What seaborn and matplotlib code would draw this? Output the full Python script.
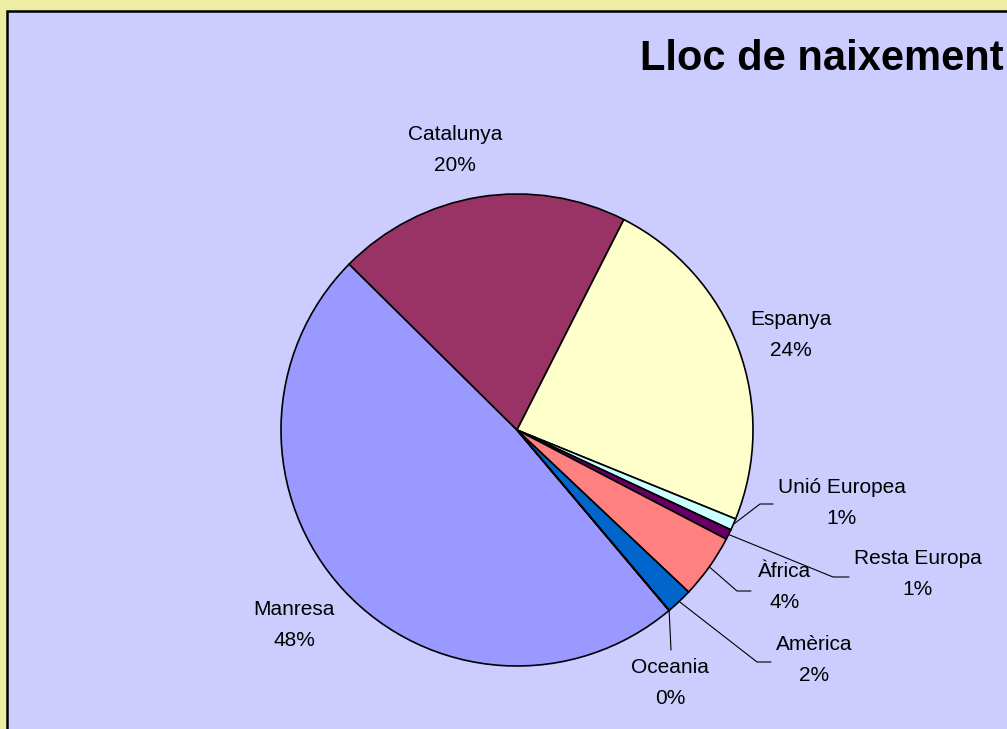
import numpy as np
import matplotlib.pyplot as plt
import matplotlib.patches as mpatches
import seaborn as sns

# data (share of people by birthplace, %)
categories = ["Manresa", "Catalunya", "Espanya", "Unió Europea", "Resta Europa", "Àfrica", "Amèrica", "Oceania"]
values = [48.6, 20.1, 23.7, 0.8, 0.7, 4.4, 1.8, 0.02]
pct_labels = ["48%", "20%", "24%", "1%", "1%", "4%", "2%", "0%"]
colors = ["#9999FF", "#993366", "#FFFFCC", "#CCFFFF", "#660066", "#FF8080", "#0066CC", "#CCCCFF"]

# layout (pixel space, y from top)
center_px = (517, 430)
radius_px = 236
label_pos = {
    "Manresa": (294, 625), "Catalunya": (455, 150), "Espanya": (791, 335),
    "Unió Europea": (842, 503), "Resta Europa": (918, 574), "Àfrica": (785, 587),
    "Amèrica": (814, 660), "Oceania": (670, 683),
}
leaders = {
    "Unió Europea": [(760, 504), (773, 504)],
    "Resta Europa": [(833, 577), (849, 577)],
    "Àfrica": [(737, 591), (751, 591)],
    "Amèrica": [(757, 662), (771, 662)],
    "Oceania": [(671, 650)],
}

sns.set_style("white")
plt.rcParams["font.family"] = ["Liberation Sans", "DejaVu Sans"]

W, H = 1007, 729
fig = plt.figure(figsize=(W / 100, H / 100), dpi=100)
fig.patch.set_facecolor("#EEEEA2")

panel = mpatches.Rectangle((7 / W, -0.05), 1.1, (H - 11) / H + 0.05, transform=fig.transFigure,
                           facecolor="#CCCCFF", edgecolor="black", linewidth=1.8, zorder=-1)
fig.add_artist(panel)

ax = fig.add_axes([0, 0, 1, 1])
ax.set_xlim(0, W)
ax.set_ylim(0, H)
ax.set_aspect("equal")
ax.axis("off")
ax.patch.set_alpha(0)

def to_data(p):
    return p[0], H - p[1]

cx, cy = to_data(center_px)
start_clockwise = 139.9  # degrees clockwise from 12 o'clock where the first slice begins
wedges, _ = ax.pie(values, colors=sns.color_palette(colors), startangle=90 - start_clockwise,
                   counterclock=False, center=(cx, cy), radius=radius_px,
                   wedgeprops=dict(edgecolor="black", linewidth=1.2))
ax.set_xlim(0, W)
ax.set_ylim(0, H)

for w, name, pct in zip(wedges, categories, pct_labels):
    lx, ly = to_data(label_pos[name])
    ax.text(lx, ly, f"{name}\n{pct}", ha="center", va="center", fontsize=15, linespacing=1.75, color="black")
    if name in leaders:
        mid = np.deg2rad((w.theta1 + w.theta2) / 2)
        pts = [(cx + radius_px * np.cos(mid), cy + radius_px * np.sin(mid))] + [to_data(p) for p in leaders[name]]
        xs, ys = zip(*pts)
        ax.plot(xs, ys, color="black", linewidth=0.8)

tx, ty = to_data((640, 70))
ax.text(tx, ty, "Lloc de naixement", ha="left", va="baseline", fontsize=30, fontweight="bold", color="black")

plt.savefig("out.png", dpi=100, facecolor=fig.get_facecolor())
